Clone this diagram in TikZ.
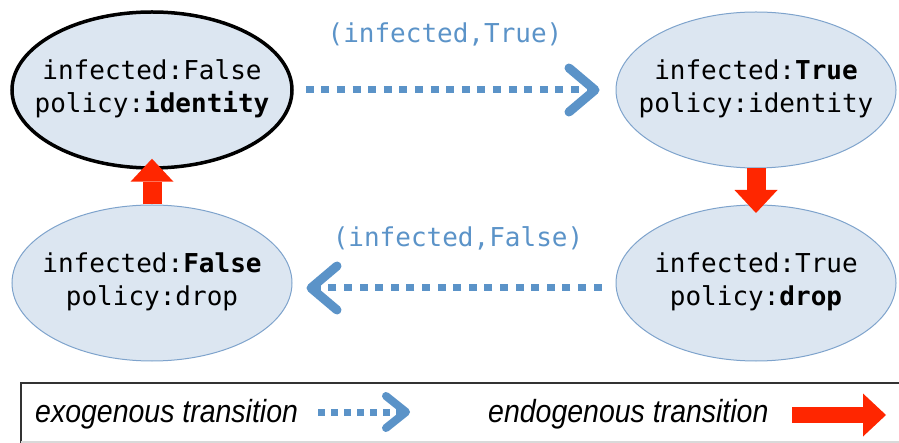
\documentclass[tikz,border=0pt]{standalone}
\usepackage{fontspec}
\setmonofont{DejaVu Sans Mono}
\newfontfamily\legendfont{Liberation Sans}
\usetikzlibrary{shapes.geometric,arrows.meta}
\definecolor{statefill}{HTML}{DCE6F1}
\definecolor{stateline}{HTML}{7EA3CC}
\definecolor{exoblue}{HTML}{5B93C8}
\definecolor{endored}{HTML}{FF2600}
\begin{document}
\begin{tikzpicture}[x=1pt,y=-1pt,
  state/.style={ellipse, draw=stateline, line width=1pt, fill=statefill,
    minimum width=280pt, minimum height=156pt, inner sep=0pt},
  startstate/.style={state, draw=black, line width=3.5pt},
  statetext/.style={font=\ttfamily\fontsize{26}{33}\selectfont, align=center, inner sep=0pt},
  exolabel/.style={font=\ttfamily\fontsize{26}{33}\selectfont, text=exoblue, inner sep=0pt},
  legendtext/.style={font=\legendfont\itshape\fontsize{32}{36}\selectfont, inner sep=0pt, anchor=base west},
  exo/.style={draw=exoblue, line width=7pt, dash pattern=on 8pt off 7.6pt,
    -{Straight Barb[length=26pt,width=44pt,line width=9pt,round]}},
  exosmall/.style={draw=exoblue, line width=7pt, dash pattern=on 7pt off 6pt,
    -{Straight Barb[length=20pt,width=32pt,line width=8pt,round]}},
  endo/.style={draw=endored, line width=19pt,
    -{Triangle[length=23pt,width=43pt,line width=0pt]}},
  endosmall/.style={draw=endored, line width=16pt,
    -{Triangle[length=23pt,width=43pt,line width=0pt]}}
]
\useasboundingbox (0,0) rectangle (899,443);

% states
\node[startstate] (e1) at (152,90) {};
\node[state] (e2) at (756,90) {};
\node[state] (e3) at (756,283) {};
\node[state] (e4) at (152,283) {};

\node[statetext] at ([yshift=1.5pt]e1) {infected:False\\policy:\textbf{identity}};
\node[statetext] at ([yshift=1.5pt]e2) {infected:\textbf{True}\\policy:identity};
\node[statetext] at ([yshift=1.5pt]e3) {infected:True\\policy:\textbf{drop}};
\node[statetext] at ([yshift=1.5pt]e4) {infected:\textbf{False}\\policy:drop};

% exogenous transitions
\draw[exo] ([xshift=12pt]e1.east) -- ([xshift=-16pt]e2.west);
\draw[exo] ([xshift=-14pt,yshift=-5pt]e3.west) -- ([xshift=14pt,yshift=-5pt]e4.east);
\node[exolabel] (l1) at (445,34) {(infected,True)};
\node[exolabel] (l2) at (458,238) {(infected,False)};

% endogenous transitions
\draw[endo] (e2.south) -- ([yshift=-8.5pt]e3.north);
\draw[endo] (e4.north) -- ([yshift=11pt]e1.south);

% legend
\draw[black!80, line width=1.6pt] (905,383) -- (21,383) -- (21,443);
\draw[black!15, line width=1.2pt] (21,442) -- (905,442);
\node[legendtext] (t1) at (35,422) {\scalebox{0.89}[1]{exogenous transition}};
\node[legendtext] (t2) at (488,422) {\scalebox{0.89}[1]{endogenous transition}};
\coordinate (x1) at (318,412);
\coordinate (x2) at (410,412);
\draw[exosmall] (x1) -- (x2);
\coordinate (n1) at (792,415);
\coordinate (n2) at (886,415);
\draw[endosmall] (n1) -- (n2);
\end{tikzpicture}
\end{document}
